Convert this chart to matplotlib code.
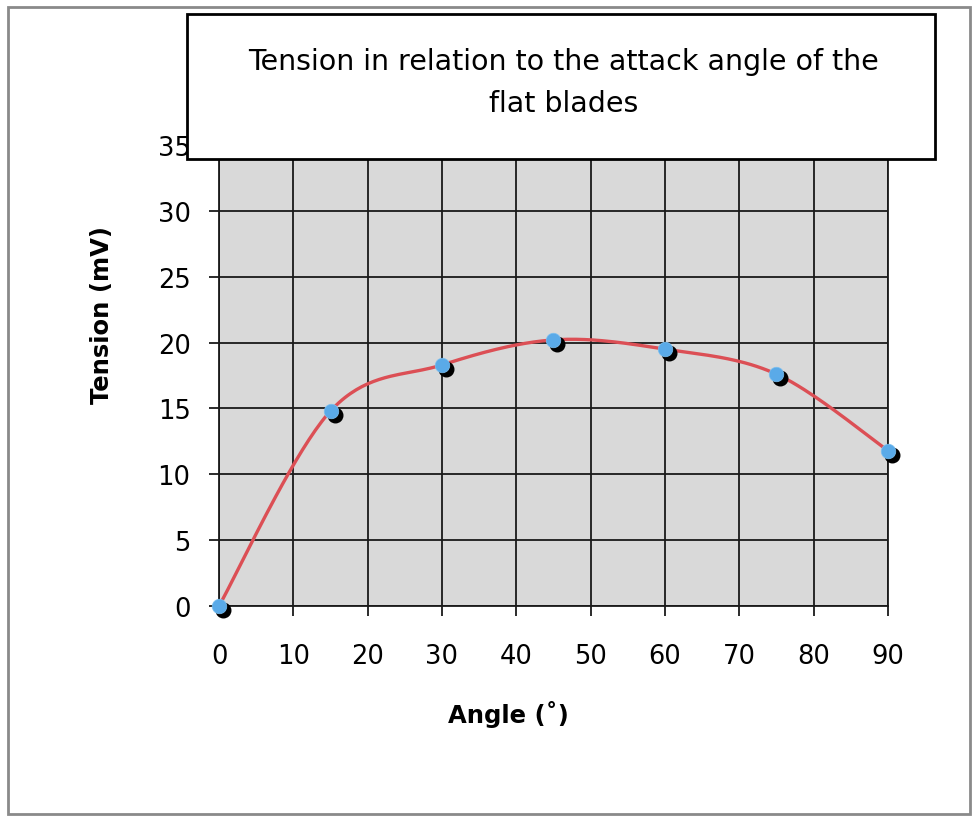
import numpy as np
import matplotlib
matplotlib.use("Agg")
import matplotlib.pyplot as plt
from matplotlib.patches import Rectangle
from matplotlib.transforms import ScaledTranslation

# data
angles = [0, 15, 30, 45, 60, 75, 90]
tension = [0.0, 14.8, 18.3, 20.2, 19.5, 17.6, 11.8]
x_ticks = [0, 10, 20, 30, 40, 50, 60, 70, 80, 90]
y_ticks = [0, 5, 10, 15, 20, 25, 30, 35]
title = "Tension in relation to the attack angle of the\nflat blades"


def smooth_curve(xs, ys, n=40):
    # Catmull-Rom style smoothing like Excel's "smoothed line"
    xs = np.asarray(xs, float)
    ys = np.asarray(ys, float)
    px = np.concatenate([[xs[0]], xs, [xs[-1]]])
    py = np.concatenate([[ys[0]], ys, [ys[-1]]])
    out_x, out_y = [], []
    t = np.linspace(0, 1, n)
    for i in range(1, len(px) - 2):
        p0, p1, p2, p3 = (np.array([px[j], py[j]]) for j in (i - 1, i, i + 1, i + 2))
        c1 = p1 + (p2 - p0) / 6
        c2 = p2 - (p3 - p1) / 6
        pts = ((1 - t) ** 3)[:, None] * p1 + (3 * (1 - t) ** 2 * t)[:, None] * c1 \
            + (3 * (1 - t) * t ** 2)[:, None] * c2 + (t ** 3)[:, None] * p2
        out_x.extend(pts[:, 0])
        out_y.extend(pts[:, 1])
    return out_x, out_y


fig = plt.figure(figsize=(9.76, 8.2), dpi=100)
ax = fig.add_axes([0.2244, 0.2598, 0.6854, 0.5622])
ax.set_facecolor("#d9d9d9")

ax.set_xlim(0, 90)
ax.set_ylim(0, 35)
ax.set_xticks(x_ticks)
ax.set_yticks(y_ticks)
ax.grid(True, color="#1a1a1a", linewidth=1.3)
ax.set_axisbelow(True)
for s in ax.spines.values():
    s.set_color("#1a1a1a")
    s.set_linewidth(1.3)
ax.tick_params(direction="out", length=7.5, width=1.3, color="#1a1a1a",
               labelsize=18.5)
ax.tick_params(axis="x", pad=19)
ax.tick_params(axis="y", pad=13)

sx, sy = smooth_curve(angles, tension)
ax.plot(sx, sy, color="#dc4f55", linewidth=2.4, zorder=3, clip_on=False)

# black shadow under each point, then blue point
ax.scatter(angles, tension, s=110, color="black", zorder=4, clip_on=False,
           transform=ax.transData + ScaledTranslation(0.04, -0.04, fig.dpi_scale_trans))
ax.scatter(angles, tension, s=110, color="#5aaae8", edgecolors="#7cc0f0",
           linewidths=0.5, zorder=5, clip_on=False)

ax.set_xlabel("Angle (˚)", fontsize=17.5, fontweight="bold")
ax.set_ylabel("Tension (mV)", fontsize=17.5, fontweight="bold")
# label centres (pixels -> axes fraction)
ax.xaxis.set_label_coords((508 - 219) / 669, -(715 - 607) / 461)
ax.yaxis.set_label_coords(-(219 - 102) / 669, (607 - 315) / 461)
ax.xaxis.label.set_va("center")
ax.yaxis.label.set_va("center")

# outer frame
fig.add_artist(Rectangle((8 / 976, 5 / 820), 962 / 976, 807 / 820,
                         transform=fig.transFigure, fill=False,
                         edgecolor="#8a8a8a", linewidth=2, zorder=1))

# title box over the top of the plot
fig.add_artist(Rectangle((187 / 976, 1 - 160 / 820), 748 / 976, 145 / 820,
                         transform=fig.transFigure, facecolor="white",
                         edgecolor="black", linewidth=2, zorder=10))
fig.text(564 / 976, 1 - 83 / 820, title, ha="center", va="center",
         fontsize=20.5, linespacing=1.6, zorder=11)

fig.savefig("out.png", dpi=100)
